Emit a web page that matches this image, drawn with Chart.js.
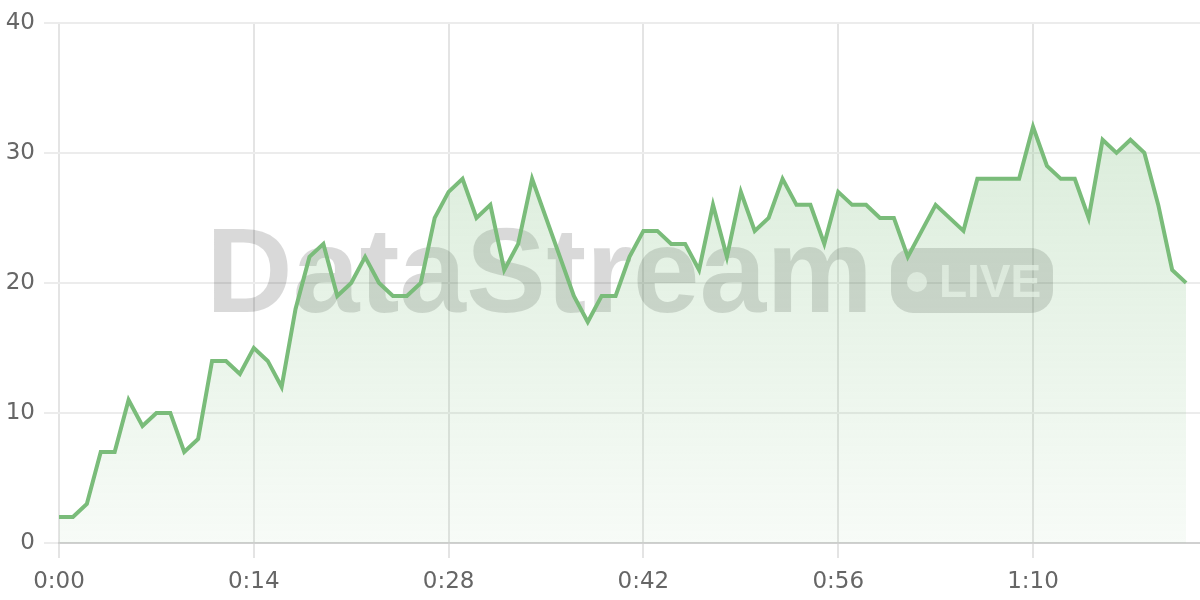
<!DOCTYPE html>
<html>
<head>
<meta charset="utf-8">
<script src="https://cdn.jsdelivr.net/npm/chart.js@4"></script>
<style>
  html, body { margin: 0; padding: 0; background: #fff; }
  #wrap { width: 1200px; height: 600px; }
</style>
</head>
<body>
<div id="wrap"><canvas id="line-chart"></canvas></div>
<script>
// one reading per second, 0:00 .. 1:21
var valores = [2, 2, 3, 7, 7, 11, 9, 10, 10, 7,
               8, 14, 14, 13, 15, 14, 12, 18, 22, 23,
               19, 20, 22, 20, 19, 19, 20, 25, 27, 28,
               25, 26, 21, 23, 28, 25, 22, 19, 17, 19,
               19, 22, 24, 24, 23, 23, 21, 26, 22, 27,
               24, 25, 28, 26, 26, 23, 27, 26, 26, 25,
               25, 22, 24, 26, 25, 24, 28, 28, 28, 28,
               32, 29, 28, 28, 25, 31, 30, 31, 30, 26,
               21, 20];
var segundos = valores.map(function (v, i) { return i; });
var passoX = 14;       // x tick every 14 s
var yTicks = [0, 10, 20, 30, 40];

var pontos = segundos.map(function (s, i) { return { x: s, y: valores[i] }; });

function formatTempo(s) {
    var m = Math.floor(s / 60);
    var r = s % 60;
    return m + ':' + (r < 10 ? '0' : '') + r;
}

var fonte = { family: '"DejaVu Sans", sans-serif', size: 23 };

// marca d'agua
var watermark = {
    id: 'watermark',
    beforeDatasetsDraw: function (chart) {
        var c = chart.ctx;
        var area = chart.chartArea;
        c.save();
        c.font = 'bold 120px "Liberation Sans", Arial, sans-serif';
        var w1 = c.measureText('DataStream').width;
        var gap = 18, bw = 162, bh = 65;
        var total = w1 + gap + bw;
        var x0 = (area.left + area.right) / 2 - total / 2;
        c.fillStyle = 'rgba(0,0,0,0.15)';
        c.textBaseline = 'alphabetic';
        c.fillText('DataStream', x0, 312);
        var bx = x0 + w1 + gap;
        c.beginPath();
        c.roundRect(bx, 248, bw, bh, 22);
        c.fill();
        c.fillStyle = 'rgba(255,255,255,0.7)';
        c.beginPath();
        c.arc(bx + 26, 282, 10, 0, Math.PI * 2);
        c.fill();
        c.font = 'bold 46px "Liberation Sans Narrow", "Liberation Sans", sans-serif';
        c.fillText('LIVE', bx + 48, 297);
        c.restore();
    }
};

var ctx = document.getElementById('line-chart');

var chartGraph = new Chart(ctx, {
    type: 'line',
    data: {
        datasets: [{
            label: 'DataStream',
            data: pontos,
            borderWidth: 4,
            borderColor: 'rgb(122,188,122)',
            pointRadius: 0,
            tension: 0,
            fill: 'origin',
            backgroundColor: function (context) {
                var area = context.chart.chartArea;
                if (!area) return 'rgba(122,188,122,0.15)';
                var g = context.chart.ctx.createLinearGradient(0, area.top, 0, area.bottom);
                g.addColorStop(0, 'rgba(122,188,122,0.32)');
                g.addColorStop(1, 'rgba(122,188,122,0.06)');
                return g;
            }
        }]
    },
    options: {
        responsive: true,
        maintainAspectRatio: false,
        animation: false,
        layout: { padding: { top: 18, left: 6, right: 0, bottom: 0 } },
        plugins: {
            legend: { display: false },
            tooltip: { enabled: false }
        },
        scales: {
            x: {
                type: 'linear',
                min: 0,
                max: 82,
                afterFit: function (scale) { scale.height = 57; },
                grid: { color: '#e4e4e4', lineWidth: 2, tickLength: 15 },
                border: { color: '#d0d0d0', width: 2 },
                ticks: {
                    stepSize: passoX,
                    autoSkip: false,
                    maxRotation: 0,
                    padding: 10,
                    color: '#666',
                    font: fonte,
                    callback: function (v) {
                        return v % passoX === 0 && v <= 70 ? formatTempo(v) : null;
                    }
                }
            },
            y: {
                min: yTicks[0],
                max: yTicks[yTicks.length - 1],
                afterFit: function (scale) { scale.width = 53; },
                grid: { color: '#ececec', lineWidth: 2, tickLength: 15 },
                border: { display: false },
                ticks: {
                    stepSize: 10,
                    padding: 9,
                    color: '#666',
                    font: fonte
                }
            }
        }
    },
    plugins: [watermark]
});
</script>
</body>
</html>
